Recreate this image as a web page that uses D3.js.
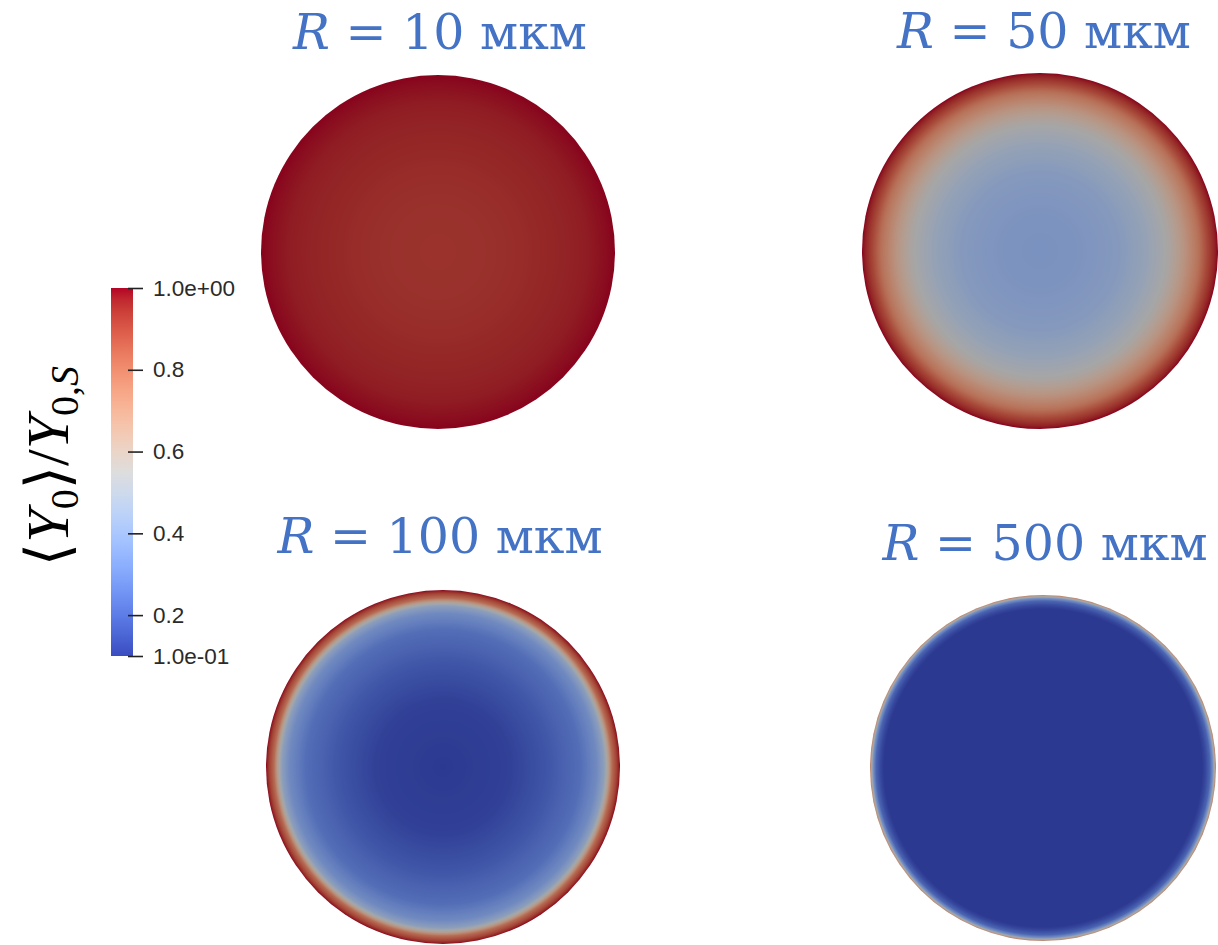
<!DOCTYPE html>
<html>
<head>
<meta charset="utf-8">
<script src="https://cdn.jsdelivr.net/npm/d3@7"></script>
<style>
  body { margin: 0; background: #ffffff; }
  svg { display: block; }
</style>
</head>
<body>
<svg id="chart" width="1218" height="945"></svg>
<script>
// ---- data -------------------------------------------------------------
// Particle radii shown in the four panels (мкм)
const radii = [10, 50, 100, 500];

// Radial profiles of <Y0>/Y0,S : position as a fraction of the particle radius
const pos10  = [0, 0.3, 0.5, 0.7, 0.85, 0.95, 1.0];
const val10  = [0.935, 0.94, 0.95, 0.962, 0.975, 0.99, 1.0];

const pos50  = [0, 0.2, 0.44, 0.6, 0.72, 0.8, 0.89, 0.945, 1.0];
const val50  = [0.38, 0.39, 0.42, 0.48, 0.56, 0.65, 0.78, 0.9, 1.0];

const pos100 = [0, 0.38, 0.6, 0.775, 0.87, 0.91, 0.935, 0.955, 0.98, 1.0];
const val100 = [0.1, 0.12, 0.18, 0.25, 0.35, 0.45, 0.62, 0.8, 0.9, 1.0];

const pos500 = [0, 0.92, 0.94, 0.965, 0.982, 0.99, 1.0];
const val500 = [0.1, 0.1, 0.14, 0.22, 0.38, 0.55, 0.75];

// Colour bar range and ticks
const barRange = [0.1, 1.0];
const barTicks = [0.2, 0.4, 0.6, 0.8];
const barEndLabels = ["1.0e-01", "1.0e+00"];

// Cool-to-warm diverging colour map, low -> high
const coolWarm = [
  "#3b4cc0", "#445acc", "#4d68d7", "#5775e1", "#6282ea", "#6c8ef1", "#779af7", "#82a5fb",
  "#8db0fe", "#98b9ff", "#a3c2ff", "#aec9fd", "#b8d0f9", "#c2d5f4", "#ccd9ee", "#d5dbe6",
  "#dddddd", "#e5d8d1", "#ecd3c5", "#f1ccb8", "#f5c4ac", "#f7bb9f", "#f7b193", "#f7a686",
  "#f49a7b", "#f18d6f", "#ec7f63", "#e57058", "#de604d", "#d55042", "#cb3e38", "#c0282f",
  "#b40426"
];

// ---- layout -----------------------------------------------------------
const panelLayout = [
  { cx: 438,  cy: 252, r: 177, tx: 440,  ty: 49  },
  { cx: 1040, cy: 251, r: 178, tx: 1044, ty: 48  },
  { cx: 443,  cy: 767, r: 177, tx: 440,  ty: 553 },
  { cx: 1043, cy: 768, r: 173, tx: 1045, ty: 560 }
];
const profiles = [[pos10, val10], [pos50, val50], [pos100, val100], [pos500, val500]];

const bar = { x: 111, y0: 288, y1: 656, w: 22 };
const titleColor = "#4472c4";
const lightFactor = 0.75;   // scene lighting darkens the rendered surface

// ---- scales -----------------------------------------------------------
const colorScale = d3.scaleLinear()
  .domain(coolWarm.map((_, i) => barRange[0] + (barRange[1] - barRange[0]) * i / (coolWarm.length - 1)))
  .range(coolWarm)
  .interpolate(d3.interpolateRgb)
  .clamp(true);

function lit(c) {
  const k = d3.rgb(c);
  return d3.rgb(k.r * lightFactor, k.g * lightFactor, k.b * lightFactor).formatHex();
}

const svg = d3.select("#chart");
const defs = svg.append("defs");

// ---- particles ----------------------------------------------------------
const samples = d3.range(0, 1.0001, 0.004);

panelLayout.forEach((p, i) => {
  const [pos, val] = profiles[i];
  const profile = d3.scaleLinear().domain(pos).range(val).clamp(true);
  const offsets = Array.from(new Set(samples.concat(pos).map(t => +t.toFixed(4)))).sort((a, b) => a - b);

  const grad = defs.append("radialGradient")
    .attr("id", "field" + i)
    .attr("cx", "50%").attr("cy", "50%").attr("r", "50%");
  grad.selectAll("stop")
    .data(offsets)
    .join("stop")
    .attr("offset", d => d)
    .attr("stop-color", d => lit(colorScale(profile(d))));

  svg.append("circle")
    .attr("cx", p.cx).attr("cy", p.cy).attr("r", p.r)
    .attr("fill", `url(#field${i})`);

  const t = svg.append("text")
    .attr("x", p.tx).attr("y", p.ty)
    .attr("text-anchor", "middle")
    .attr("fill", titleColor)
    .attr("font-family", "'DejaVu Serif', 'Liberation Serif', serif")
    .attr("font-size", 49)
    .attr("xml:space", "preserve");
  t.append("tspan").attr("font-style", "italic").text("R");
  t.append("tspan").text(" = " + radii[i] + " мкм");
});

// ---- colour bar ---------------------------------------------------------
const barScale = d3.scaleLinear().domain(barRange).range([bar.y1, bar.y0]);

const barGrad = defs.append("linearGradient")
  .attr("id", "barGrad")
  .attr("x1", 0).attr("y1", 1).attr("x2", 0).attr("y2", 0);
barGrad.selectAll("stop")
  .data(colorScale.domain())
  .join("stop")
  .attr("offset", d => (d - barRange[0]) / (barRange[1] - barRange[0]))
  .attr("stop-color", d => colorScale(d));

svg.append("rect")
  .attr("x", bar.x).attr("y", bar.y0)
  .attr("width", bar.w).attr("height", bar.y1 - bar.y0)
  .attr("fill", "url(#barGrad)");

const tickVals = [barRange[0]].concat(barTicks, [barRange[1]]);
const fmt = d => d === barRange[0] ? barEndLabels[0] : d === barRange[1] ? barEndLabels[1] : d3.format(".1f")(d);

const axis = d3.axisRight(barScale)
  .tickValues(tickVals)
  .tickFormat(fmt)
  .tickSize(15)
  .tickPadding(10);

const gAxis = svg.append("g")
  .attr("transform", `translate(${bar.x + bar.w - 5},0)`)
  .call(axis);
gAxis.select(".domain").remove();
gAxis.selectAll(".tick line").attr("stroke", "#222").attr("stroke-width", 1.6);
gAxis.selectAll(".tick text")
  .attr("fill", "#2a2a2a")
  .attr("font-family", "'Liberation Sans', Arial, sans-serif")
  .attr("font-size", 22.5);

// ---- colour bar title ---------------------------------------------------
const yl = svg.append("text")
  .attr("transform", "translate(68,466) rotate(-90)")
  .attr("text-anchor", "middle")
  .attr("fill", "#000")
  .attr("font-family", "'Liberation Serif', 'DejaVu Serif', serif")
  .attr("font-size", 60);
yl.append("tspan").text("\u27E8");
yl.append("tspan").attr("font-style", "italic").text("Y");
yl.append("tspan").attr("font-size", 40).attr("dy", 10).text("0");
yl.append("tspan").attr("dy", -10).text("\u27E9/");
yl.append("tspan").attr("font-style", "italic").text("Y");
yl.append("tspan").attr("font-size", 40).attr("dy", 10).text("0,");
yl.append("tspan").attr("font-size", 40).attr("font-style", "italic").text("S");
</script>
</body>
</html>
